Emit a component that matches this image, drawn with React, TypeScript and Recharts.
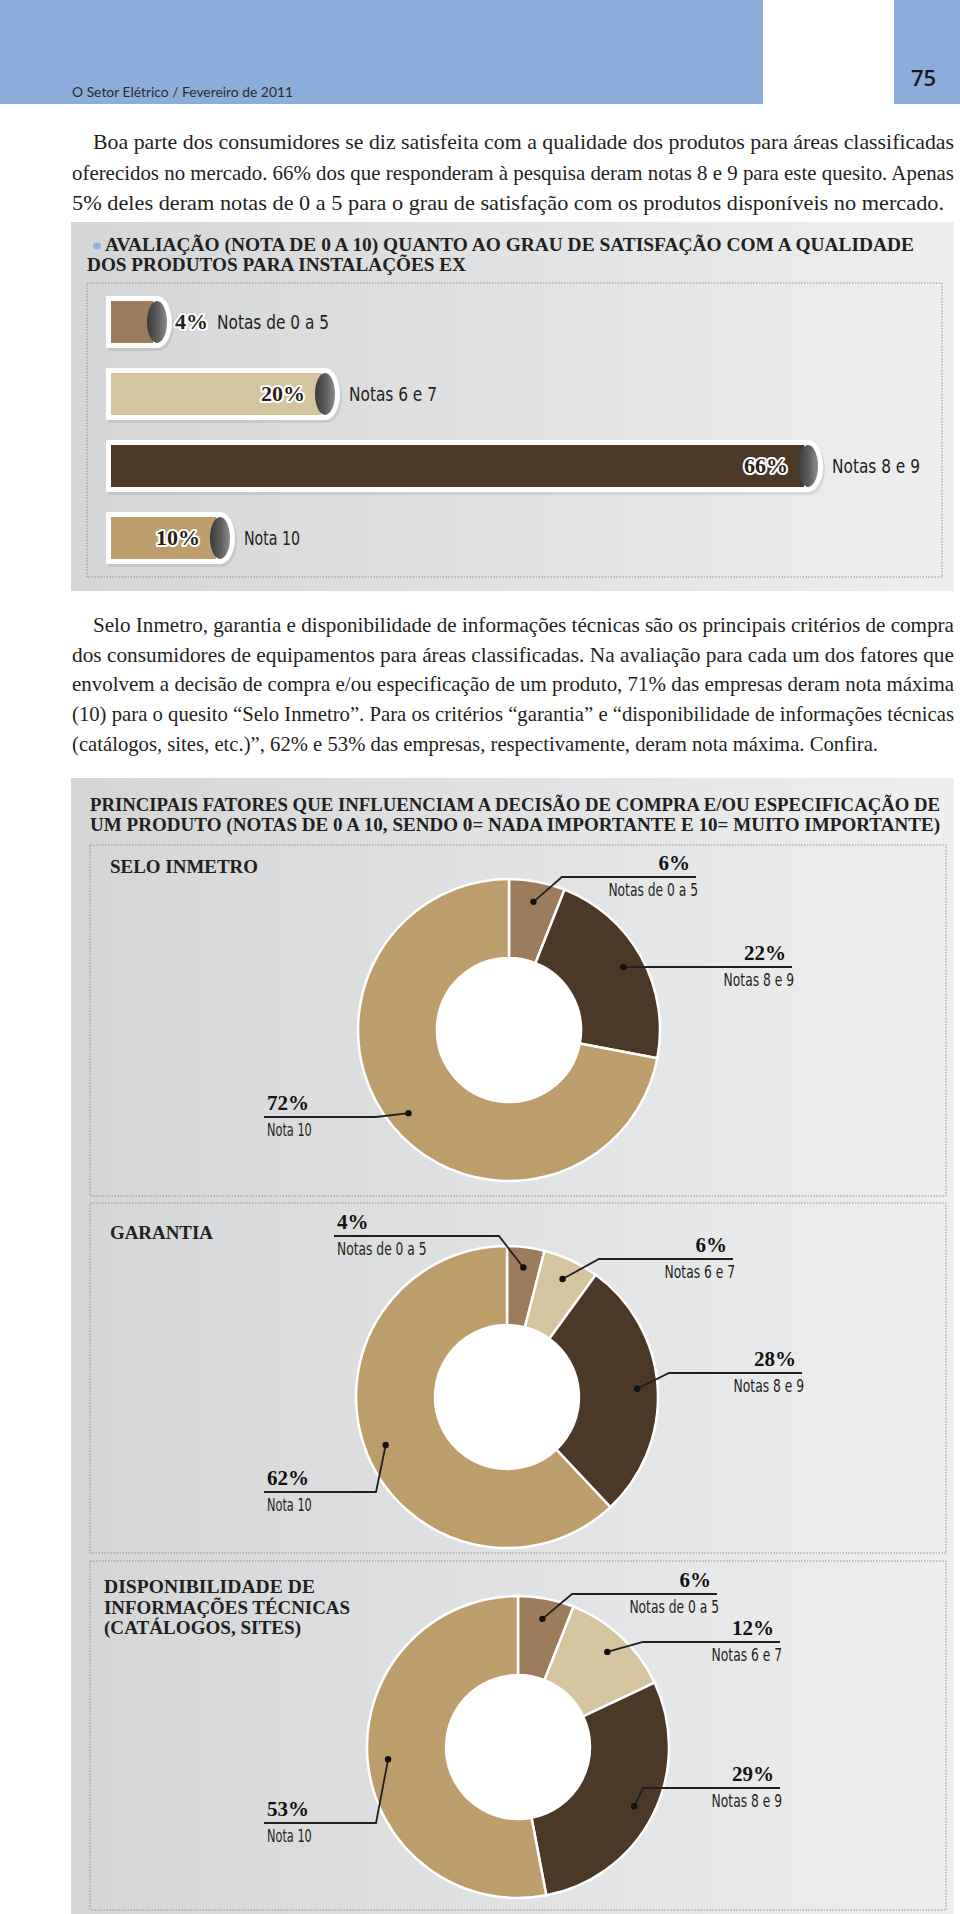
import { BarChart, Bar, XAxis, YAxis, PieChart, Pie, Cell } from 'recharts'

// ---- data ----
const barCategories = ['Notas de 0 a 5', 'Notas 6 e 7', 'Notas 8 e 9', 'Nota 10']
const barValues = [4, 20, 66, 10]

const seloCategories = ['Notas de 0 a 5', 'Notas 8 e 9', 'Nota 10']
const seloValues = [6, 22, 72]

const garantiaCategories = ['Notas de 0 a 5', 'Notas 6 e 7', 'Notas 8 e 9', 'Nota 10']
const garantiaValues = [4, 6, 28, 62]

const infoCategories = ['Notas de 0 a 5', 'Notas 6 e 7', 'Notas 8 e 9', 'Nota 10']
const infoValues = [6, 12, 29, 53]

const categoryColors: Record<string, string> = {
  'Notas de 0 a 5': '#9d7c5c',
  'Notas 6 e 7': '#d4c59f',
  'Notas 8 e 9': '#4b3826',
  'Nota 10': '#bd9d6a',
}

// callout layout (elbow dx, elbow dy, line end dx), relative to donut centre
const seloCallouts = [[53, -153, 187], [146, -63, 283], [-133, 87, -245]]
const garantiaCallouts = [[-8, -161, -173], [92, -138, 226], [162, -24, 295], [-131, 95, -243]]
const infoCallouts = [[54, -153, 199], [125, -105, 262], [125, 41, 262], [-142, 76, -254]]

const para1 = [
  'Boa parte dos consumidores se diz satisfeita com a qualidade dos produtos para áreas classificadas',
  'oferecidos no mercado. 66% dos que responderam à pesquisa deram notas 8 e 9 para este quesito. Apenas',
  '5% deles deram notas de 0 a 5 para o grau de satisfação com os produtos disponíveis no mercado.',
]
const para2 = [
  'Selo Inmetro, garantia e disponibilidade de informações técnicas são os principais critérios de compra',
  'dos consumidores de equipamentos para áreas classificadas. Na avaliação para cada um dos fatores que',
  'envolvem a decisão de compra e/ou especificação de um produto, 71% das empresas deram nota máxima',
  '(10) para o quesito “Selo Inmetro”. Para os critérios “garantia” e “disponibilidade de informações técnicas',
  '(catálogos, sites, etc.)”, 62% e 53% das empresas, respectivamente, deram nota máxima. Confira.',
]

const SERIF = "'Liberation Serif', 'DejaVu Serif', serif"
const NARROW = "'Liberation Sans Narrow', 'DejaVu Sans Condensed', 'DejaVu Sans', sans-serif"
const INK = '#231f20'
const RAD = Math.PI / 180

const toRows = (cats: string[], vals: number[]) => cats.map((name, i) => ({ name, value: vals[i] }))

// text squeezed horizontally to an exact width (condensed magazine face)
function FitText({ x, y, w, squeeze = 0.88, children, ...rest }: any) {
  return (
    <g transform={`translate(${x},${y}) scale(${squeeze},1)`}>
      <text x={0} y={0} textLength={w / squeeze} lengthAdjust="spacingAndGlyphs" {...rest}>
        {children}
      </text>
    </g>
  )
}

function TubeBar(props: any) {
  const { x, y, width, height, payload } = props
  const ry = height / 2
  const cy = y + ry
  const capRx = 10
  const pad = 5
  const capX = x + width + 4
  const outline = `M${x - pad},${y - pad} H${capX} A${capRx + pad},${ry + pad} 0 0 1 ${capX},${y + height + pad} H${x - pad} Z`
  const inside = width > 60
  const pctX = inside ? capX - capRx - 10 : capX + capRx + pad + 3
  const nameX = inside ? capX + capRx + pad + 9 : pctX + 42
  return (
    <g>
      <path d={outline} fill="#000" opacity={0.08} transform="translate(2,3)" />
      <path d={outline} fill="#fff" />
      <rect x={x} y={y} width={width} height={height} fill={categoryColors[payload.name]} />
      <ellipse cx={capX} cy={cy} rx={capRx} ry={ry} fill="url(#capGrad)" />
      <text
        x={pctX}
        y={cy + 7}
        textAnchor={inside ? 'end' : 'start'}
        fontFamily={SERIF}
        fontWeight={700}
        fontSize={22}
        fill="#2a1f14"
        stroke="#fff"
        strokeWidth={4}
        strokeLinejoin="round"
        paintOrder="stroke"
      >
        {payload.value}%
      </text>
      <text
        x={nameX}
        y={cy + 7}
        fontFamily={NARROW}
        fontSize={20}
        fill={INK}
        textLength={payload.name.length * 8}
        lengthAdjust="spacingAndGlyphs"
      >
        {payload.name}
      </text>
    </g>
  )
}

const renderCallout = (layout: number[][]) => (p: any) => {
  const { cx, cy, midAngle, innerRadius, outerRadius, index, value } = p
  const name: string = p.name ?? p.payload?.name
  const r = innerRadius + (outerRadius - innerRadius) * 0.74
  const dotX = cx + r * Math.cos(-midAngle * RAD)
  const dotY = cy + r * Math.sin(-midAngle * RAD)
  const [ex, ey, endDx] = layout[index]
  const elbowX = cx + ex
  const elbowY = cy + ey
  const lineEnd = cx + endDx
  const right = lineEnd > elbowX
  return (
    <g key={`c-${index}`}>
      <polyline
        points={`${dotX},${dotY} ${elbowX},${elbowY} ${lineEnd},${elbowY}`}
        stroke={INK}
        strokeWidth={1.8}
        fill="none"
      />
      <circle cx={dotX} cy={dotY} r={3.2} fill="#111" />
      <text
        x={right ? lineEnd - 6 : lineEnd + 3}
        y={elbowY - 7}
        textAnchor={right ? 'end' : 'start'}
        fontFamily={SERIF}
        fontWeight={700}
        fontSize={21}
        fill="#111"
      >
        {value}%
      </text>
      <text
        x={right ? lineEnd + 2 : lineEnd + 3}
        y={elbowY + 19}
        textAnchor={right ? 'end' : 'start'}
        fontFamily={NARROW}
        fontSize={17}
        fill={INK}
        textLength={name.length * 6.4}
        lengthAdjust="spacingAndGlyphs"
      >
        {name}
      </text>
    </g>
  )
}

function Donut({ rows, callouts, left, top, cx, cy }: any) {
  return (
    <div style={{ position: 'absolute', left, top, width: 856, height: 350 }}>
      <div
        style={{
          position: 'absolute',
          left: cx - 73,
          top: cy - 73,
          width: 146,
          height: 146,
          borderRadius: '50%',
          background: '#fff',
        }}
      />
      <div style={{ position: 'absolute', left: 0, top: 0 }}>
        <PieChart width={856} height={350} margin={{ top: 0, right: 0, bottom: 0, left: 0 }}>
          <Pie
            data={rows}
            dataKey="value"
            nameKey="name"
            cx={cx}
            cy={cy}
            innerRadius={72}
            outerRadius={151}
            startAngle={90}
            endAngle={-270}
            stroke="#fff"
            strokeWidth={2.5}
            label={renderCallout(callouts)}
            labelLine={false}
            isAnimationActive={false}
          >
            {rows.map((r: any) => (
              <Cell key={r.name} fill={categoryColors[r.name]} />
            ))}
          </Pie>
        </PieChart>
      </div>
    </div>
  )
}

export default function App() {
  const barRows = toRows(barCategories, barValues)
  const panelBg = 'linear-gradient(to right, #d4d5d7 0%, #e2e3e4 55%, #efeff0 100%)'
  const dotted = { stroke: '#8e8e8e', strokeWidth: 1, strokeDasharray: '1.5 1.5', fill: 'none' }
  const bodyStyle = { fontFamily: SERIF, fontSize: 22, fill: INK }
  const titleStyle = { fontFamily: SERIF, fontWeight: 700, fontSize: 18, fill: INK }

  return (
    <div style={{ position: 'absolute', left: 0, top: 0, width: 960, height: 1914, background: '#fff', overflow: 'hidden' }}>
      {/* header bands */}
      <div style={{ position: 'absolute', left: 0, top: 0, width: 763, height: 104, background: '#8badda' }} />
      <div style={{ position: 'absolute', left: 894, top: 0, width: 66, height: 104, background: '#8badda' }} />

      {/* panels */}
      <div style={{ position: 'absolute', left: 71, top: 222, width: 883, height: 369, background: panelBg }} />
      <div style={{ position: 'absolute', left: 71, top: 778, width: 883, height: 1136, background: panelBg }} />

      <svg width={960} height={1914} style={{ position: 'absolute', left: 0, top: 0 }}>
        <FitText x={72} y={97} w={221} squeeze={0.92} fontFamily="Lato, 'Open Sans', sans-serif" fontSize={13.5} fill="#2b2b2b">
          O Setor Elétrico / Fevereiro de 2011
        </FitText>
        <text x={911} y={86} fontFamily="'Open Sans', Lato, sans-serif" fontWeight={600} fontSize={22} fill="#1a1a1a">
          75
        </text>

        {para1.map((t, i) => (
          <FitText key={t} x={i === 0 ? 93 : 72} y={149 + i * 30.5} w={i === 0 ? 861 : i === 2 ? 872 : 882} {...bodyStyle}>
            {t}
          </FitText>
        ))}
        {para2.map((t, i) => (
          <FitText key={t} x={i === 0 ? 93 : 72} y={632 + i * 29.7} w={i === 0 ? 861 : i === 4 ? 806 : 882} {...bodyStyle}>
            {t}
          </FitText>
        ))}

        {/* panel 1 title */}
        <ellipse cx={97} cy={246} rx={4} ry={3.6} fill="#8fb1df" />
        <FitText x={105} y={251} w={809} {...titleStyle}>
          AVALIAÇÃO (NOTA DE 0 A 10) QUANTO AO GRAU DE SATISFAÇÃO COM A QUALIDADE
        </FitText>
        <FitText x={87} y={271} w={379} {...titleStyle}>
          DOS PRODUTOS PARA INSTALAÇÕES EX
        </FitText>
        <rect x={87} y={283} width={855} height={294} {...dotted} />

        {/* panel 2 title */}
        <FitText x={90} y={811} w={850} {...titleStyle}>
          PRINCIPAIS FATORES QUE INFLUENCIAM A DECISÃO DE COMPRA E/OU ESPECIFICAÇÃO DE
        </FitText>
        <FitText x={90} y={831} w={850} {...titleStyle}>
          UM PRODUTO (NOTAS DE 0 A 10, SENDO 0= NADA IMPORTANTE E 10= MUITO IMPORTANTE)
        </FitText>

        <rect x={90} y={845} width={856} height={351} {...dotted} />
        <rect x={90} y={1203} width={856} height={350} {...dotted} />
        <rect x={90} y={1561} width={856} height={349} {...dotted} />

        <FitText x={110} y={873} w={148} squeeze={0.95} {...titleStyle}>SELO INMETRO</FitText>
        <FitText x={110} y={1239} w={103} squeeze={0.95} {...titleStyle}>GARANTIA</FitText>
        <FitText x={104} y={1593} w={211} squeeze={0.95} {...titleStyle}>DISPONIBILIDADE DE</FitText>
        <FitText x={104} y={1614} w={246} squeeze={0.95} {...titleStyle}>INFORMAÇÕES TÉCNICAS</FitText>
        <FitText x={104} y={1634} w={197} squeeze={0.95} {...titleStyle}>(CATÁLOGOS, SITES)</FitText>
      </svg>

      {/* tube bar chart */}
      <div style={{ position: 'absolute', left: 87, top: 283 }}>
        <BarChart
          width={855}
          height={294}
          data={barRows}
          layout="vertical"
          margin={{ top: 3, right: 12, bottom: 3, left: 24 }}
          barCategoryGap={0}
        >
          <defs>
            <linearGradient id="capGrad" x1="0" y1="0" x2="1" y2="0">
              <stop offset="0%" stopColor="#3a3a3a" />
              <stop offset="55%" stopColor="#5e5e5e" />
              <stop offset="100%" stopColor="#8e8e8e" />
            </linearGradient>
          </defs>
          <XAxis type="number" domain={[0, 78]} hide />
          <YAxis type="category" dataKey="name" hide width={0} />
          <Bar dataKey="value" barSize={42} shape={<TubeBar />} isAnimationActive={false} />
        </BarChart>
      </div>

      <Donut rows={toRows(seloCategories, seloValues)} callouts={seloCallouts} left={90} top={845} cx={419} cy={185} />
      <Donut rows={toRows(garantiaCategories, garantiaValues)} callouts={garantiaCallouts} left={90} top={1203} cx={417} cy={194} />
      <Donut rows={toRows(infoCategories, infoValues)} callouts={infoCallouts} left={90} top={1561} cx={428} cy={186} />
    </div>
  )
}
